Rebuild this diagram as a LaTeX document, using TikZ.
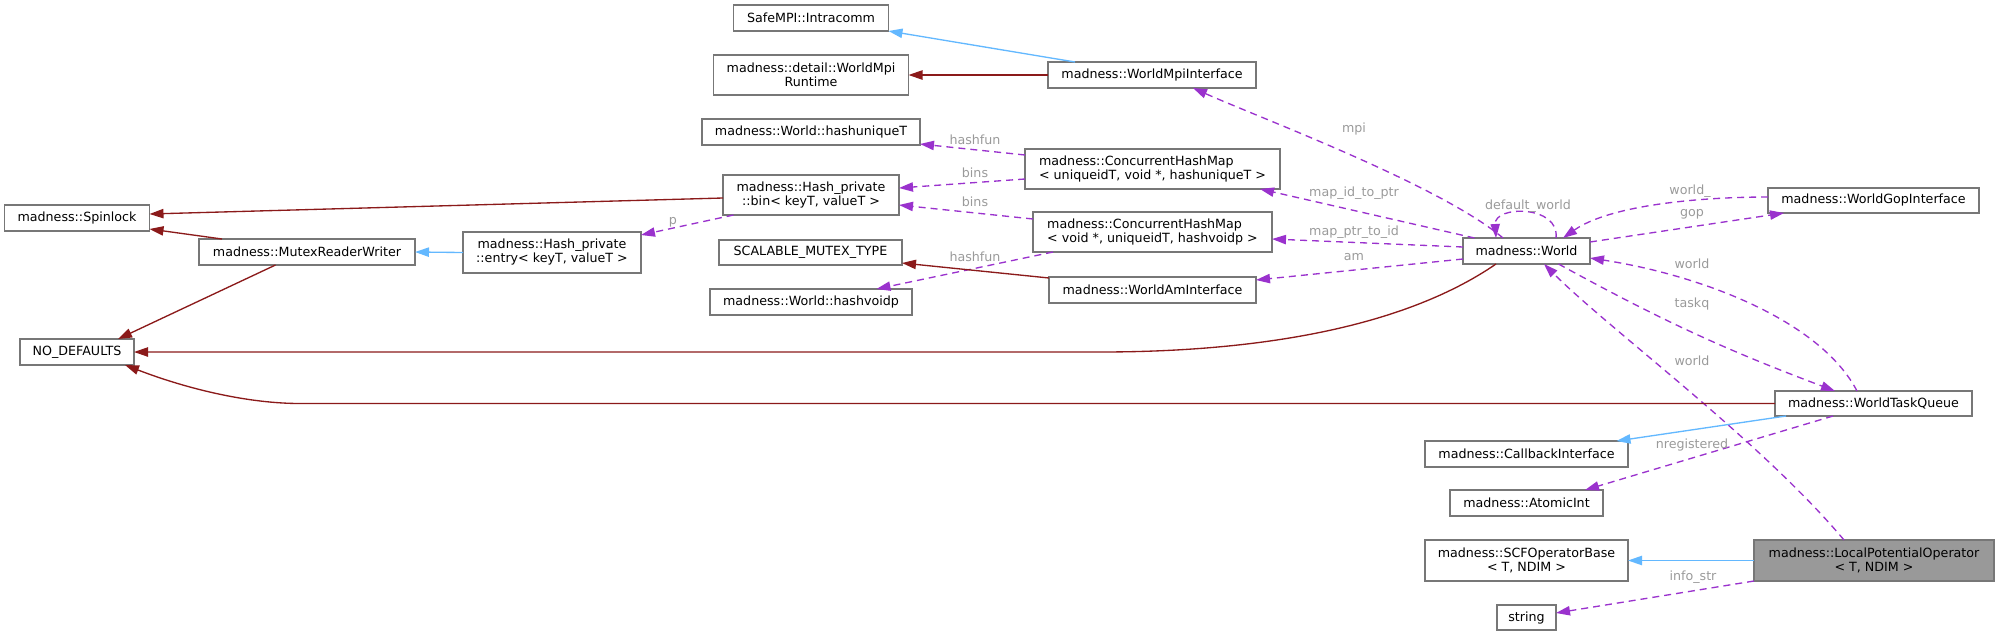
\documentclass[tikz,border=0pt]{standalone}
\usepackage{fontspec}
\setmainfont{DejaVu Sans}
\usetikzlibrary{arrows.meta,calc}
\definecolor{dred}{HTML}{8B1A1A}
\definecolor{dpurp}{HTML}{9A32CD}
\definecolor{lblue}{HTML}{63B8FF}
\definecolor{lgrey}{HTML}{9A9A9A}
\definecolor{bgrey}{HTML}{777777}
\newcommand{\dfont}{\fontsize{9.5pt}{10.5pt}\selectfont}
\tikzset{
  box/.style={draw=bgrey, line width=1pt, fill=white, inner sep=0pt, outer sep=0pt, font=\dfont, align=center},
  lbox/.style={box, align=left},
  tipa/.style={-{Triangle[length=10.5pt,width=7pt]}},
  inh/.style={draw=lblue, line width=1pt, tipa},
  usedge/.style={draw=dpurp, line width=1pt, dash pattern=on 5.25pt off 3.75pt, tipa},
  redge/.style={draw=dred, line width=1pt, tipa},
  lbl/.style={text=lgrey, font=\dfont, inner sep=0pt}
}
\begin{document}
\begin{tikzpicture}[x=0.75pt,y=-0.75pt]
\useasboundingbox (0,0) rectangle (1999,636);
% nodes
\node[box, minimum width=108.75pt, minimum height=19.5pt] (Spin) at (77,218) {madness::Spinlock};
\node[box, minimum width=162pt, minimum height=19.5pt] (MRW) at (307,252) {madness::MutexReaderWriter};
\node[box, minimum width=133.5pt, minimum height=30.75pt] (Entry) at (552,252.5) {madness::Hash\_private\\::entry< keyT, valueT >};
\node[box, minimum width=85.5pt, minimum height=19.5pt] (NoDef) at (77,352) {NO\_DEFAULTS};
\node[box, minimum width=116.25pt, minimum height=19.5pt] (Safe) at (811,18) {SafeMPI::Intracomm};
\node[box, minimum width=146.25pt, minimum height=30pt] (Runtime) at (811,75) {madness::detail::WorldMpi\\Runtime};
\node[box, minimum width=156pt, minimum height=19.5pt] (MpiI) at (1152,75) {madness::WorldMpiInterface};
\node[box, minimum width=163.5pt, minimum height=19.5pt] (HashU) at (811,132) {madness::World::hashuniqueT};
\node[lbox, minimum width=191.25pt, minimum height=30pt] (CHM1) at (1152.5,169) {madness::ConcurrentHashMap\\< uniqueidT, void *, hashuniqueT >};
\node[box, minimum width=132pt, minimum height=30pt] (Bin) at (811,195) {madness::Hash\_private\\::bin< keyT, valueT >};
\node[lbox, minimum width=179.25pt, minimum height=30pt] (CHM2) at (1152.5,232) {madness::ConcurrentHashMap\\< void *, uniqueidT, hashvoidp >};
\node[box, minimum width=137.25pt, minimum height=18.75pt] (Scal) at (810.5,252.5) {SCALABLE\_MUTEX\_TYPE};
\node[box, minimum width=151.5pt, minimum height=19.5pt] (HashV) at (811,302) {madness::World::hashvoidp};
\node[box, minimum width=155.25pt, minimum height=19.5pt] (AmI) at (1152.5,290) {madness::WorldAmInterface};
\node[box, minimum width=95.25pt, minimum height=19.5pt] (World) at (1526.5,251) {madness::World};
\node[box, minimum width=158.25pt, minimum height=18.75pt] (Gop) at (1873.5,200.5) {madness::WorldGopInterface};
\node[box, minimum width=147.75pt, minimum height=18.75pt] (TQ) at (1873.5,403.5) {madness::WorldTaskQueue};
\node[box, minimum width=152.25pt, minimum height=19.5pt] (Cb) at (1526.5,454) {madness::CallbackInterface};
\node[box, minimum width=114.75pt, minimum height=19.5pt] (Atom) at (1526.5,503) {madness::AtomicInt};
\node[box, minimum width=152.25pt, minimum height=30.75pt] (SCF) at (1526.5,560.5) {madness::SCFOperatorBase\\< T, NDIM >};
\node[box, fill=black!40, minimum width=180pt, minimum height=30.75pt] (LPO) at (1874,560.5) {madness::LocalPotentialOperator\\< T, NDIM >};
\node[box, minimum width=44.25pt, minimum height=18.75pt] (Str) at (1526.5,617.5) {string};
% edges
\draw[inh] ($(MpiI.north)+(-77,0)$) -- (Safe.south east);
\draw[redge] (MpiI.west) -- (Runtime.east);
\draw[usedge] ($(World.north)+(-23.5,0)$) .. controls (1440,185) and (1260,118) .. ($(MpiI.south)+(41,0)$);
\draw[usedge] ($(World.north west)+(11.5,0)$) -- ($(CHM1.south east)+(-20,0)$);
\draw[usedge] ($(World.west)+(0,-4)$) -- ($(CHM2.east)+(0,7)$);
\draw[usedge] ($(World.west)+(0,8)$) -- ($(AmI.east)+(0,-10)$);
\draw[usedge] ($(World.north)+(29.5,0)$) .. controls +(4,-33) and +(-2,-33) .. ($(World.north)+(-30.5,0)$);
\draw[usedge] ($(World.east)+(0,-9)$) -- ($(Gop.south west)+(16,0)$);
\draw[usedge] ($(Gop.west)+(0,-3.5)$) .. controls (1700,197) and (1610,205) .. ($(World.north east)+(-27,0)$);
\draw[usedge] ($(TQ.north)+(-16.5,0)$) .. controls (1820,320) and (1700,275) .. ($(World.east)+(0,7)$);
\draw[usedge] ($(World.south)+(32,0)$) to[bend right=4] ($(TQ.north)+(-38.5,0)$);
\draw[usedge] ($(LPO.north)+(-30,0)$) .. controls (1760,440) and (1610,330) .. ($(World.south)+(17.5,0)$);
\draw[usedge] ($(TQ.south)+(-40.5,0)$) -- ($(Atom.north east)+(-18,0)$);
\draw[inh] ($(TQ.south west)+(11,0)$) -- ($(Cb.north east)+(-11.5,0)$);
\draw[inh] (LPO.west) -- (SCF.east);
\draw[usedge] (LPO.south west) -- ($(Str.east)+(0,-4.5)$);
\draw[redge] (TQ.west) -- ++(-1475,0) .. controls +(-50,0) and +(65,25) .. ($(NoDef.south east)+(-9,0)$);
\draw[redge] ($(World.south)+(-30.5,0)$) .. controls +(-96,66) and +(150,0) .. ($(NoDef.east)+(966,0)$) -- (NoDef.east);
\draw[redge] ($(MRW.south)+(-31.5,0)$) -- ($(NoDef.north)+(41,0)$);
\draw[redge] ($(MRW.north)+(-85,0)$) -- ($(Spin.south east)+(0,-2)$);
\draw[redge] ($(Bin.west)+(0,3)$) -- ($(Spin.east)+(0,-4)$);
\draw[inh] (Entry.west) -- (MRW.east);
\draw[usedge] ($(Bin.south west)+(10.5,0)$) -- ($(Entry.north east)+(0,3)$);
\draw[usedge] ($(CHM1.west)+(0,-14)$) -- ($(HashU.south east)+(0,-1)$);
\draw[usedge] ($(CHM1.west)+(0,10)$) -- ($(Bin.east)+(0,-7)$);
\draw[usedge] ($(CHM2.west)+(0,-13)$) -- ($(Bin.east)+(0,10)$);
\draw[usedge] ($(CHM2.south west)+(20,0)$) -- ($(HashV.north east)+(-35.5,0)$);
\draw[redge] ($(AmI.north west)+(0,1)$) -- ($(Scal.east)+(0,10.5)$);
% labels
\node[lbl] (t1) at (975,140) {hashfun};
\node[lbl] (t2) at (975,173) {bins};
\node[lbl] (t3) at (975,202) {bins};
\node[lbl] (t4) at (673,222) {p};
\node[lbl] (t5) at (975,257) {hashfun};
\node[lbl] (t6) at (1354,129) {mpi};
\node[lbl] (t7) at (1354,193) {map\_id\_to\_ptr};
\node[lbl] (t8) at (1528,206) {default\_world};
\node[lbl] (t9) at (1354,232) {map\_ptr\_to\_id};
\node[lbl] (t10) at (1354,257) {am};
\node[lbl] (t11) at (1690,191) {world\_};
\node[lbl] (t12) at (1692,214) {gop};
\node[lbl] (t13) at (1692,264) {world};
\node[lbl] (t14) at (1692,304) {taskq};
\node[lbl] (t15) at (1692,361) {world};
\node[lbl] (t16) at (1692,445) {nregistered};
\node[lbl] (t17) at (1693,577) {info\_str};
\end{tikzpicture}
\end{document}
